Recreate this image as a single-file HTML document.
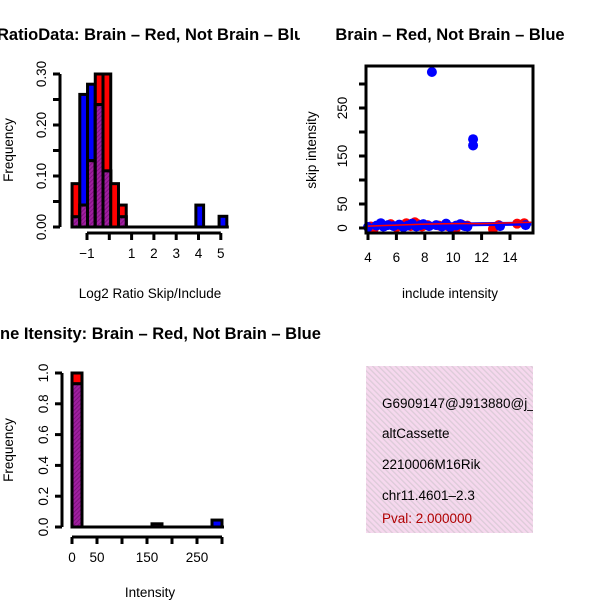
<!DOCTYPE html>
<html><head><meta charset="utf-8"><style>
body{margin:0;background:#fff}
svg{display:block}
text{font-family:"Liberation Sans",sans-serif;font-size:13.5px;fill:#000}
.t{font-weight:bold;font-size:16.5px}
</style></head><body>
<svg id="c" width="600" height="600" viewBox="0 0 600 600">
<defs>
<pattern id="hatch" width="3" height="3" patternUnits="userSpaceOnUse" patternTransform="rotate(45)">
<rect width="3" height="3" fill="#a020a0"/><rect width="1" height="3" fill="#801080"/></pattern>
<pattern id="pink" width="4" height="4" patternUnits="userSpaceOnUse" patternTransform="rotate(-45)">
<rect width="4" height="4" fill="#f6d8ee"/><rect width="1.3" height="4" fill="#dccbd8"/></pattern>
<clipPath id="clipR"><rect x="366" y="366" width="167" height="167"/></clipPath>
<clipPath id="clipT1"><rect x="0" y="0" width="300" height="300"/></clipPath>
<clipPath id="clipT3"><rect x="0" y="300" width="330" height="300"/></clipPath>
</defs>
<text class="t" x="-3" y="40" clip-path="url(#clipT1)">RatioData: Brain – Red, Not Brain – Blue</text>
<text class="t" x="450" y="40" text-anchor="middle">Brain – Red, Not Brain – Blue</text>
<text class="t" x="-22" y="339" clip-path="url(#clipT3)">Gene Itensity: Brain – Red, Not Brain – Blue</text>
<text x="150" y="298" text-anchor="middle">Log2 Ratio Skip/Include</text>
<text transform="translate(13,150) rotate(-90)" text-anchor="middle">Frequency</text>
<text x="450" y="298" text-anchor="middle">include intensity</text>
<text transform="translate(316,150) rotate(-90)" text-anchor="middle">skip intensity</text>
<text x="150" y="597" text-anchor="middle">Intensity</text>
<text transform="translate(13,450) rotate(-90)" text-anchor="middle">Frequency</text>
<g id="g1"></g><g id="g2"></g><g id="g3"></g>
<g>
<rect x="366" y="366" width="167" height="167" fill="url(#pink)"/>
<g clip-path="url(#clipR)">
<text x="382" y="408">G6909147@J913880@j_at</text>
<text x="382" y="438">altCassette</text>
<text x="382" y="469">2210006M16Rik</text>
<text x="382" y="500">chr11.4601–2.3</text>
<text x="382" y="523" style="fill:#b00000">Pval: 2.000000</text>
</g></g>
</svg>
<script>
// Ratio histogram data
const ratioBinStart = -1.67, ratioBinWidth = 0.347;
const ratioRed  = [0.085,0.043,0.13,0.30,0.30,0.085,0.043,0,0,0,0,0,0,0,0,0,0,0,0,0];
const ratioBlue = [0.02,0.26,0.28,0.24,0.11,0,0.02,0,0,0,0,0,0,0,0,0,0.043,0,0,0.021];
const ratioYTicks = [0,0.05,0.10,0.15,0.20,0.25,0.30];
const ratioYLabels = ["0.00","","0.10","","0.20","","0.30"];
const ratioXTicks = [-1,0,1,2,3,4,5];
const ratioXLabels = ["−1","","1","2","3","4","5"];
// Intensity histogram data
const intBinWidth = 20;
const intRed  = [1.0,0,0,0,0,0,0,0,0.02,0,0,0,0,0,0];
const intBlue = [0.93,0,0,0,0,0,0,0,0.02,0,0,0,0,0,0.045];
const intYTicks = [0,0.2,0.4,0.6,0.8,1.0];
const intYLabels = ["0.0","0.2","0.4","0.6","0.8","1.0"];
const intXTicks = [0,50,100,150,200,250,300];
const intXLabels = ["0","50","","150","","250",""];
// Scatter data
const redX = [4.2,4.4,5.6,6.0,6.3,6.7,7.0,7.3,7.5,7.8,8.2,9.0,9.6,10.2,10.6,11.0,12.8,13.2,14.5,15.0];
const redY = [3,-2,8,2,6,10,4,12,8,3,6,5,4,0,7,5,-2,6,9,10];
const blueX = [4.0,4.6,4.9,5.1,5.4,5.8,6.2,6.5,6.8,7.1,7.4,7.7,7.9,8.3,8.5,8.8,9.2,9.5,9.8,10.2,10.5,10.8,11.0,11.4,11.4,13.3,15.1];
const blueY = [2,5,10,3,6,4,7,2,5,9,3,6,8,4,325,6,3,9,2,5,8,4,3,185,172,4,6];
const redFitX = [4,6,8,10,12,15.5]; const redFitY = [4,6,8,9,9,12];
const blueFitX = [4,6,8,10,12,15.5]; const blueFitY = [3,5,6,7,8,9];
const scXTicks = [4,6,8,10,12,14];
const scYTicks = [0,50,100,150,200,250,300];
const scYLabels = ["0","50","","150","","250",""];

const NS="http://www.w3.org/2000/svg";
function mk(p,tag,attrs){const e=document.createElementNS(NS,tag);for(const k in attrs)e.setAttribute(k,attrs[k]);p.appendChild(e);return e;}

function hist(g,red,blue,xs,ys,xTicks,xLabels,yTicks,yLabels,yAxisX,xAxisY,x0,binW,prefix){
  
  
  for(let i=0;i<red.length;i++){
    const l=xs(x0+i*binW), r=xs(x0+(i+1)*binW);
    const parts=[[red[i],'#ff0000','red'],[blue[i],'#0000ff','blue'],[Math.min(red[i],blue[i]),'url(#hatch)','overlap']];
    parts.sort((a,b)=>b[0]-a[0]);
    for(const [v,f,n] of parts){
      if(v<=0)continue;
      const el=mk(g,'rect',{x:l,y:ys(v),width:r-l,height:ys(0)-ys(v),fill:f,stroke:'#000','stroke-width':3});
      
      
    }
  }
  mk(g,'line',{x1:xs(x0),x2:xs(x0+red.length*binW)+2,y1:ys(0),y2:ys(0),stroke:'#000','stroke-width':3});
  const ya=mk(g,'line',{x1:yAxisX,x2:yAxisX,y1:ys(yTicks[0]),y2:ys(yTicks[yTicks.length-1]),stroke:'#000','stroke-width':3});
  
  
  yTicks.forEach((t,i)=>{
    mk(g,'line',{x1:yAxisX-7,x2:yAxisX,y1:ys(t),y2:ys(t),stroke:'#000','stroke-width':3});
    if(yLabels[i]){const tx=mk(g,'text',{transform:`translate(${yAxisX-14},${ys(t)}) rotate(-90)`,'text-anchor':'middle'});tx.textContent=yLabels[i];
      
      }
  });
  const xa=mk(g,'line',{x1:xs(xTicks[0]),x2:xs(xTicks[xTicks.length-1]),y1:xAxisY,y2:xAxisY,stroke:'#000','stroke-width':3});
  
  
  xTicks.forEach((t,i)=>{
    mk(g,'line',{x1:xs(t),x2:xs(t),y1:xAxisY,y2:xAxisY+7,stroke:'#000','stroke-width':3});
    if(xLabels[i]){const tx=mk(g,'text',{x:xs(t),y:xAxisY+25,'text-anchor':'middle'});tx.textContent=xLabels[i];
      
      }
  });
}
// panel 1
const xs1=v=>87+(v+1)*22.3, ys1=v=>227-v*510;
hist(document.getElementById('g1'),ratioRed,ratioBlue,xs1,ys1,ratioXTicks,ratioXLabels,ratioYTicks,ratioYLabels,60,233,ratioBinStart,ratioBinWidth,'ratio');
// panel 3
const xs3=v=>72+v*0.5, ys3=v=>527-v*154;
hist(document.getElementById('g3'),intRed,intBlue,xs3,ys3,intXTicks,intXLabels,intYTicks,intYLabels,62,537,0,intBinWidth,'intensity');
// panel 2 scatter
const g2=document.getElementById('g2');


const xs2=v=>368+(v-4)*14.2, ys2=v=>228-v*0.48;
redX.forEach((x,i)=>{const c=mk(g2,'circle',{cx:xs2(x),cy:ys2(redY[i]),r:5,fill:'#ff0000'});
  
  });
blueX.forEach((x,i)=>{const c=mk(g2,'circle',{cx:xs2(x),cy:ys2(blueY[i]),r:5,fill:'#0000ff'});
  
  });
const bl=mk(g2,'polyline',{points:blueFitX.map((x,i)=>xs2(x)+','+ys2(blueFitY[i])).join(' '),fill:'none',stroke:'#0000ff','stroke-width':4});


const rl=mk(g2,'polyline',{points:redFitX.map((x,i)=>xs2(x)+','+ys2(redFitY[i])).join(' '),fill:'none',stroke:'#ff0000','stroke-width':1.5});


const box=mk(g2,'rect',{x:366,y:66,width:167,height:167,fill:'none',stroke:'#000','stroke-width':3});


scXTicks.forEach(t=>{mk(g2,'line',{x1:xs2(t),x2:xs2(t),y1:233,y2:240,stroke:'#000','stroke-width':3});
  const tx=mk(g2,'text',{x:xs2(t),y:262,'text-anchor':'middle'});tx.textContent=t;
  
  });
scYTicks.forEach((t,i)=>{mk(g2,'line',{x1:359,x2:366,y1:ys2(t),y2:ys2(t),stroke:'#000','stroke-width':3});
  if(scYLabels[i]){const tx=mk(g2,'text',{transform:`translate(${347},${ys2(t)}) rotate(-90)`,'text-anchor':'middle'});tx.textContent=scYLabels[i];
  
  }});
</script>
</body></html>
